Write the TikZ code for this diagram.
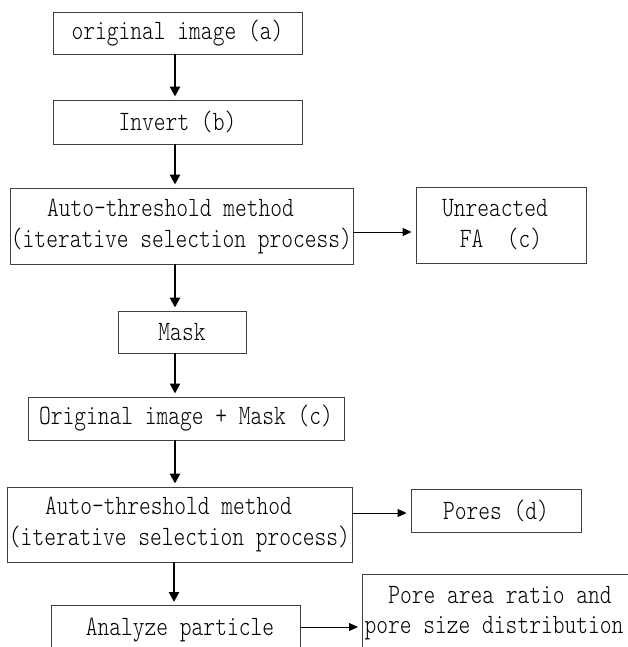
\documentclass[tikz,border=0pt]{standalone}
\usepackage{fontspec}
\setmainfont{Latin Modern Mono Light}[FakeStretch=0.8]
\usetikzlibrary{arrows.meta}
\begin{document}
\begin{tikzpicture}[x=1pt, y=-1pt,
		box/.style={draw=black!75, line width=0.9pt, rectangle, inner sep=0pt, align=center,
			font=\fontsize{28}{31}\selectfont},
		flow/.style={line width=2.6pt, -{Triangle[length=10pt, width=10pt]}, shorten >=3pt},
		side/.style={line width=1pt, -{Triangle[length=9pt, width=8pt]}, shorten >=4pt}]
	\useasboundingbox (0,0) rectangle (627,647);
	\node[box, minimum width=249, minimum height=42] (orig) at (177.5,33) {original image (a)};
	\node[box, minimum width=249, minimum height=44] (inv) at (177.5,122) {Invert (b)};
	\node[box, minimum width=343, minimum height=76] (auto1) at (181.5,226) {Auto-threshold method\hspace*{22pt}\\(iterative selection process)};
	\node[box, minimum width=170, minimum height=76] (unr) at (501,225) {Unreacted\hspace*{12pt}\\FA\ \ (c)};
	\node[box, minimum width=128, minimum height=42] (mask) at (182,332) {Mask};
	\node[box, minimum width=316, minimum height=43] (om) at (186,418.5) {Original image + Mask (c)};
	\node[box, minimum width=345, minimum height=75] (auto2) at (179.5,524.5) {Auto-threshold method\hspace*{22pt}\\(iterative selection process)};
	\node[box, minimum width=170, minimum height=43] (pores) at (496,510.5) {Pores (d)};
	\node[box, minimum width=249, minimum height=85, anchor=north] (ana) at (175.5,605) {};
	\node[anchor=base, font=\fontsize{28}{31}\selectfont] (anat) at (180,635) {Analyze particle};
	\node[box, minimum width=280, minimum height=110, anchor=north west] (par) at (362,574) {};
	\node[anchor=base, font=\fontsize{28}{31}\selectfont] (part1) at (500,603) {Pore area ratio and};
	\node[anchor=base, font=\fontsize{28}{31}\selectfont] (part2) at (494,633) {pore size distribution};
	\coordinate (ax) at (175,0);
	\draw[flow] (orig.south -| ax) -- (inv.north -| ax);
	\draw[flow] (inv.south -| ax) -- (auto1.north -| ax);
	\draw[flow] (auto1.south -| ax) -- (mask.north -| ax);
	\draw[flow] (mask.south -| ax) -- (om.north -| ax);
	\draw[flow] (om.south -| ax) -- (auto2.north -| ax);
	\draw[flow] ([xshift=-1pt]auto2.south -| ax) -- ([xshift=-1pt]ana.north -| ax);
	\draw[side] ([yshift=-6pt]auto1.east) -- ([yshift=-6pt]auto1.east -| unr.west);
	\draw[side] ([yshift=-2.5pt]pores.west -| auto2.east) -- ([yshift=-2.5pt]pores.west);
	\draw[side] (ana.north east |- 0,627) -- (par.west |- 0,627);
\end{tikzpicture}
\end{document}
